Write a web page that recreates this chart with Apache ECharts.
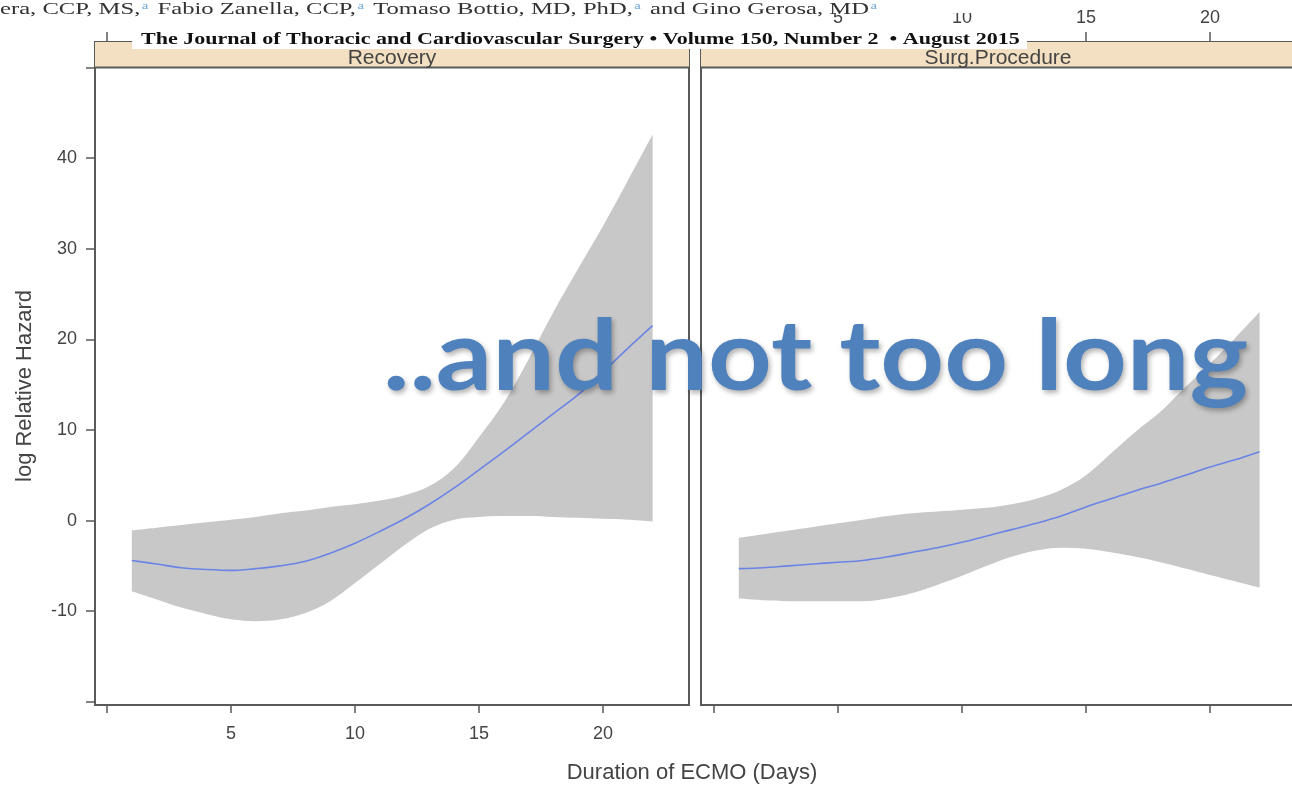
<!DOCTYPE html>
<html>
<head>
<meta charset="utf-8">
<script src="https://cdn.jsdelivr.net/npm/echarts@6/dist/echarts.min.js"></script>
<style>
html,body{margin:0;padding:0;background:#fff;}
#main{width:1292px;height:785px;}
</style>
</head>
<body>
<div id="main"></div>
<script>
// ---- data ----
const days = [1,2,3,4,5,6,7,8,9,10,11,12,13,14,15,16,17,18,19,20,21,22];
const recoveryFit   = [-4.4,-4.8,-5.2,-5.4,-5.5,-5.3,-5.0,-4.5,-3.6,-2.5,-1.2,0.2,1.8,3.6,5.6,7.6,9.7,11.8,13.9,16.4,19.0,21.5];
const recoveryUpper = [-1.1,-0.8,-0.5,-0.2,0.1,0.4,0.8,1.1,1.5,1.8,2.2,2.8,3.8,5.8,9.2,13.0,17.8,23.0,27.8,32.5,37.5,42.6];
const recoveryLower = [-7.8,-8.7,-9.6,-10.3,-10.9,-11.1,-10.9,-10.2,-8.9,-6.9,-4.8,-2.7,-0.9,0.1,0.4,0.5,0.5,0.4,0.3,0.2,0.1,-0.1];
const surgFit   = [-5.3,-5.2,-5.0,-4.8,-4.6,-4.4,-4.0,-3.5,-3.0,-2.4,-1.7,-1.0,-0.3,0.5,1.5,2.4,3.3,4.1,5.0,5.9,6.7,7.6];
const surgUpper = [-1.9,-1.5,-1.1,-0.7,-0.3,0.1,0.5,0.8,1.0,1.2,1.4,1.8,2.4,3.4,5.0,7.4,9.8,12.0,14.7,17.3,20.1,23.0];
const surgLower = [-8.6,-8.8,-8.9,-8.9,-8.9,-8.9,-8.6,-8.0,-7.1,-6.1,-5.0,-4.0,-3.3,-3.0,-3.1,-3.5,-4.0,-4.6,-5.3,-6.0,-6.7,-7.4];
const panelNames = ['Recovery', 'Surg.Procedure'];
const xTicks = [0,5,10,15,20];
const xLabels = [5,10,15,20];
const yTicks = [-20,-10,0,10,20,30,40,50];
const yLabels = [-10,0,10,20,30,40];
const xTitle = 'Duration of ECMO (Days)';
const yTitle = 'log Relative Hazard';
const overlayTitle = '..and not too long';
const journalText = 'The Journal of Thoracic and Cardiovascular Surgery \u2022 Volume 150, Number 2  \u2022 August 2015';
const authorParts = ['era, CCP, MS,', ' Fabio Zanella, CCP,', ' Tomaso Bottio, MD, PhD,', ' and Gino Gerosa, MD'];

// ---- layout ----
const G = [{left:95, top:42, width:594, height:663}, {left:701, top:42, width:640, height:663}];
const PX_PER_DAY = 24.8;
const X0 = [107, 714];
const xMin = G.map((g,i)=> (g.left - X0[i]) / PX_PER_DAY);
const xMax = G.map((g,i)=> xMin[i] + g.width / PX_PER_DAY);
const Y_MIN = -20.35, Y_MAX = 52.8;
const STRIP_H = 25.5;
const AX = '#5a5a5a', TXT = '#444';
const SANS = "'Liberation Sans', Arial, sans-serif";
const SERIF = "'Liberation Serif', 'Times New Roman', serif";

function textWidth(text, font) {
  const c = document.createElement('canvas').getContext('2d');
  c.font = font;
  const m = c.measureText(text);
  return m.actualBoundingBoxLeft + m.actualBoundingBoxRight;
}

// value pairs stored as [y, x] so that the stacked dimension is the value (y)
const pairYX = (xs, ys) => xs.map((x,i)=>[ys[i], x]);
const diff = (a, b) => a.map((v,i)=> +(v - b[i]).toFixed(3));

const bands = [
  {fit: recoveryFit, up: recoveryUpper, lo: recoveryLower},
  {fit: surgFit, up: surgUpper, lo: surgLower}
];

const xAxes = [], yAxes = [], series = [];
G.forEach((g, i) => {
  const base = {gridIndex:i, type:'value', min:xMin[i], max:xMax[i], splitLine:{show:false},
    axisLine:{show:false, onZero:false}};
  xAxes.push(Object.assign({}, base, {position:'bottom',
    axisTick:{customValues:xTicks, length:8, lineStyle:{color:AX, width:1.5}},
    axisLabel:{show: i===0, customValues:xLabels, fontSize:18, color:TXT, fontFamily:SANS, margin:20}}));
  xAxes.push(Object.assign({}, base, {position:'top',
    axisTick:{customValues:xTicks, length:10, lineStyle:{color:AX, width:1.5}},
    axisLabel:{show: i===1, customValues:xLabels, fontSize:18, color:TXT, fontFamily:SANS, margin:15}}));
  yAxes.push({gridIndex:i, type:'value', min:Y_MIN, max:Y_MAX, splitLine:{show:false},
    axisLine:{show:false, onZero:false},
    axisTick:{show: i===0, customValues:yTicks, length:9, lineStyle:{color:AX, width:1.5}},
    axisLabel:{show: i===0, customValues:yLabels, fontSize:18, color:TXT, fontFamily:SANS, margin:18}});
  const b = bands[i];
  const stackId = 'band' + i;
  const enc = {x:1, y:0};
  series.push({type:'line', xAxisIndex:2*i, yAxisIndex:i, data:pairYX(days, b.lo), encode:enc, stack:stackId,
    stackStrategy:'all', symbol:'none', smooth:0.35, lineStyle:{opacity:0}, silent:true, z:2});
  series.push({type:'line', xAxisIndex:2*i, yAxisIndex:i, data:pairYX(days, diff(b.up, b.lo)), encode:enc, stack:stackId,
    stackStrategy:'all', symbol:'none', smooth:0.35, lineStyle:{opacity:0},
    areaStyle:{color:'#c8c8c8', opacity:1}, silent:true, z:2});
  series.push({type:'line', xAxisIndex:2*i, yAxisIndex:i, data:pairYX(days, b.fit), encode:enc, symbol:'none',
    smooth:0.35, lineStyle:{color:'#6a84e6', width:1.6}, silent:true, z:3});
});

const graphics = [];
G.forEach((g, i) => {
  const w = 594;
  graphics.push({type:'rect', z:5, shape:{x:g.left, y:g.top, width:g.width, height:STRIP_H}, style:{fill:'#f3dfc1'}});
  graphics.push({type:'line', z:6, shape:{x1:g.left, y1:g.top+STRIP_H, x2:g.left+g.width, y2:g.top+STRIP_H}, style:{stroke:AX, lineWidth:2}});
  graphics.push({type:'text', z:6, x:g.left + w/2, y:g.top + STRIP_H/2 + 3,
    style:{text:panelNames[i], fill:TXT, font:'21px ' + SANS, textAlign:'center', textVerticalAlign:'middle'}});
});
// axis titles
graphics.push({type:'text', z:6, x:692, y:773, style:{text:xTitle, fill:TXT, font:'22px ' + SANS, textAlign:'center', textVerticalAlign:'middle'}});
graphics.push({type:'text', z:6, x:25, y:386, rotation:Math.PI/2,
  style:{text:yTitle, fill:TXT, font:'22px ' + SANS, textAlign:'center', textVerticalAlign:'middle'}});

// author band (from the page above the figure)
const AUTH_FS = 16.6;
const authorPlain = authorParts.join('');
const authorScale = 836 / textWidth(authorPlain, AUTH_FS + 'px ' + SERIF);
graphics.push({type:'rect', z:50, shape:{x:0, y:0, width:1000, height:13}, style:{fill:'#fff'}});
const richText = authorParts.map(p => '{n|' + p + '}{s|a}').join('');
graphics.push({type:'text', z:51, x:0, y:9.5, scaleX:authorScale, scaleY:1, originX:0, originY:0,
  style:{text:richText, textVerticalAlign:'middle', textAlign:'left',
    rich:{n:{fontFamily:SERIF, fontSize:AUTH_FS, fill:'#333', color:'#333'},
          s:{fontFamily:SERIF, fontSize:AUTH_FS*0.6, fill:'#6fa8dc', color:'#6fa8dc', verticalAlign:'top', padding:[0,2,0,1]}}}});

// journal header
const J_FS = 17.5;
const journalScale = 879 / textWidth(journalText, 'bold ' + J_FS + 'px ' + SERIF);
graphics.push({type:'rect', z:50, shape:{x:132, y:31, width:895, height:18}, style:{fill:'#fff'}});
graphics.push({type:'text', z:51, x:141, y:39.5, scaleX:journalScale, scaleY:1, originX:0, originY:0,
  style:{text:journalText, fill:'#111', font:'bold ' + J_FS + 'px ' + SERIF, textAlign:'left', textVerticalAlign:'middle'}});

// big overlay statement
const BIG_FS = 98;
const bigScale = 860 / textWidth(overlayTitle, 'bold ' + BIG_FS + 'px Lato');
graphics.push({type:'text', z:100, x:383, y:358, scaleX:bigScale, scaleY:1, originX:0, originY:0,
  style:{text:overlayTitle, fill:'#4f81bd', font:'bold ' + BIG_FS + 'px Lato',
    textAlign:'left', textVerticalAlign:'middle',
    textShadowColor:'rgba(0,0,0,0.3)', textShadowBlur:5, textShadowOffsetX:2, textShadowOffsetY:3}});

const chart = echarts.init(document.getElementById('main'), null, {renderer:'canvas'});
chart.setOption({
  animation:false,
  backgroundColor:'#fff',
  grid: G.map(g => Object.assign({}, g, {show:true, borderColor:AX, borderWidth:2, backgroundColor:'transparent',
    containLabel:false, outerBoundsMode:'none'})),
  xAxis: xAxes,
  yAxis: yAxes,
  series: series,
  graphic: {elements: graphics}
});
</script>
</body>
</html>
